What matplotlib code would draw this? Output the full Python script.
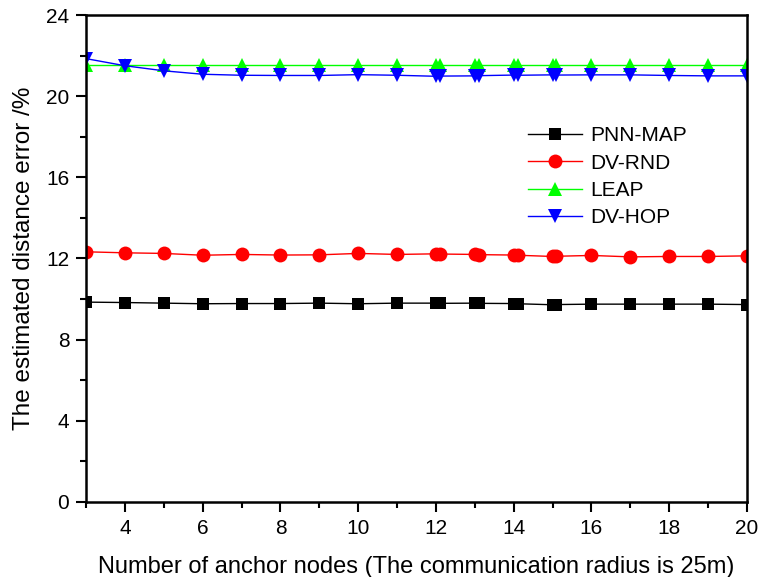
import matplotlib
matplotlib.use("Agg")
import matplotlib.pyplot as plt
from matplotlib.ticker import MultipleLocator

plt.rcParams["font.family"] = ["Liberation Sans", "DejaVu Sans"]

# number of anchor nodes (a few duplicated runs near 12-15)
anchors = [3, 4, 5, 6, 7, 8, 9, 10, 11, 12, 12.1, 13, 13.1, 14, 14.1,
           15, 15.1, 16, 17, 18, 19, 20]

pnn_map = [9.85, 9.83, 9.80, 9.77, 9.78, 9.78, 9.80, 9.77, 9.80, 9.80, 9.79,
           9.80, 9.79, 9.78, 9.77, 9.72, 9.73, 9.75, 9.75, 9.75, 9.75, 9.73]
dv_rnd = [12.33, 12.28, 12.25, 12.16, 12.20, 12.17, 12.18, 12.25, 12.20, 12.23,
          12.22, 12.20, 12.19, 12.17, 12.16, 12.10, 12.11, 12.15, 12.08, 12.10,
          12.10, 12.13]
leap = [21.56] * len(anchors)
dv_hop = [21.85, 21.50, 21.25, 21.08, 21.03, 21.02, 21.02, 21.06, 21.03, 20.98,
          20.99, 21.00, 21.01, 21.04, 21.03, 21.05, 21.04, 21.05, 21.05, 21.02,
          21.00, 21.00]

series = [
    ("PNN-MAP", pnn_map, "black", "s", 9),
    ("DV-RND", dv_rnd, "red", "o", 10),
    ("LEAP", leap, "#00ff00", "^", 10),
    ("DV-HOP", dv_hop, "blue", "v", 10),
]

fig = plt.figure(figsize=(7.58, 5.77), dpi=100)
ax = fig.add_axes([0.1135, 0.130, 0.872, 0.844])

for name, vals, col, mk, ms in series:
    ax.plot(anchors, vals, color=col, lw=1, marker=mk, ms=ms,
            markeredgewidth=0, label=name)

ax.set_xlim(3, 20)
ax.set_ylim(0, 24)
ax.xaxis.set_major_locator(MultipleLocator(2))
ax.xaxis.set_minor_locator(MultipleLocator(1))
ax.yaxis.set_major_locator(MultipleLocator(4))
ax.yaxis.set_minor_locator(MultipleLocator(2))
ax.tick_params(which="major", direction="out", length=7, width=1.5,
               labelsize=15, pad=5)
ax.tick_params(which="minor", direction="out", length=4, width=1.5)
for sp in ax.spines.values():
    sp.set_linewidth(1.8)

ax.set_xlabel("Number of anchor nodes (The communication radius is 25m)",
              fontsize=17, labelpad=13)
ax.set_ylabel("The estimated distance error /%", fontsize=17.5, labelpad=8)

ax.legend(loc="upper left", bbox_to_anchor=(0.64, 0.81), frameon=False,
          fontsize=15, handlelength=2.6, labelspacing=0.4, handletextpad=0.4)

fig.savefig("out.png", dpi=100)
